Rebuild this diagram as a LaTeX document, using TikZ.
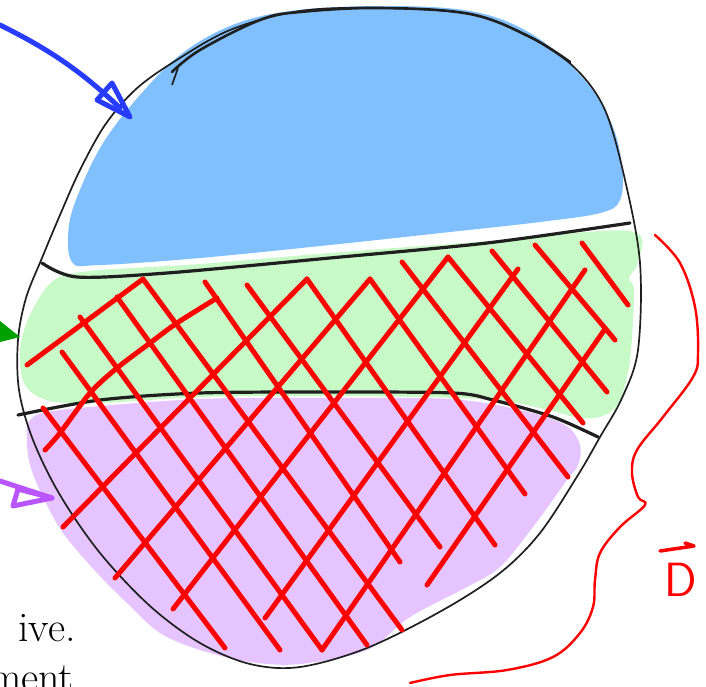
\documentclass[tikz,border=0pt]{standalone}
\usepackage{fontspec}
\definecolor{skyb}{RGB}{128,192,255}
\definecolor{mint}{RGB}{200,250,200}
\definecolor{lilac}{RGB}{230,196,255}
\definecolor{hatchred}{RGB}{255,0,0}
\definecolor{arrblue}{RGB}{40,60,255}
\definecolor{arrgreen}{RGB}{0,160,0}
\definecolor{arrpurple}{RGB}{185,85,255}
\tikzset{
  outline/.style={draw=black!88, line width=1.7pt, line join=round},
  sepline/.style={draw=black!88, line width=3.2pt, line cap=round, line join=round},
  hatchline/.style={draw=hatchred, line width=5pt, line cap=round, line join=round},
  pen/.style={line width=#1, line cap=round, line join=round},
}
\begin{document}
\begin{tikzpicture}[x=1pt,y=-1pt]
\useasboundingbox (0,0) rectangle (706,687);
% colour fills
\fill[skyb] plot[smooth cycle, tension=0.6] coordinates {(72,262) (69,225) (82,185) (105,140) (140,95) (180,55) (230,26) (290,11) (380,6) (470,11) (530,33) (580,75) (610,120) (622,165) (620,200) (600,213) (540,222) (450,232) (330,245) (200,258) (100,265)};
\fill[mint] plot[smooth cycle, tension=0.55] coordinates {(30,315) (53,281) (90,271) (200,264) (330,253) (490,241) (630,231) (638,262) (629,278) (634,292) (630,360) (620,400) (605,415) (580,418) (540,408) (480,399) (330,396) (200,397) (100,403) (50,401) (25,385) (20,350)};
\fill[lilac] plot[smooth cycle, tension=0.55] coordinates {(30,420) (60,410) (200,399) (330,398) (450,399) (520,410) (565,425) (580,445) (578,465) (567,480) (533,527) (500,567) (467,587) (410,617) (367,650) (300,664) (250,662) (200,650) (160,633) (127,603) (97,573) (63,533) (43,497) (30,465) (27,440)};
% outer outline
\draw[outline] plot[smooth cycle, tension=0.55] coordinates {(172,63) (230,30) (300,11) (380,8) (470,14) (530,37) (575,68) (605,110) (625,180) (640,263) (638,350) (622,398) (600,437) (578,475) (540,533) (500,573) (443,610) (367,648) (300,667) (250,664) (200,643) (150,606) (100,553) (60,495) (33,440) (19,390) (18,340) (26,298) (42,258) (60,215) (80,170) (105,125) (135,90)};
\draw[sepline, line width=2.6pt] plot[smooth, tension=0.6] coordinates {(172,72) (200,50) (260,20) (300,12) (380,8) (470,14) (530,37) (570,62)};
\draw[outline] (178,68) -- (172,85);
% separation lines
\draw[sepline] plot[smooth, tension=0.5] coordinates {(42,263) (77,277) (167,273) (330,258) (487,243) (630,223)};
\draw[sepline] plot[smooth, tension=0.5] coordinates {(18,415) (100,400) (200,393) (330,392) (453,393) (493,400) (553,417) (598,437)};
% cross hatching: down-right strokes
\foreach \a/\b/\c/\d in {43/408/225/648, 62/352/280/650, 80/317/322/650, 117/297/367/645, 143/279/402/630, 205/282/400/562, 247/285/440/547, 307/279/495/545, 370/279/525/494, 402/262/568/477, 448/257/583/423, 492/251/607/392, 535/245/615/340, 582/243/628/305}
  \draw[hatchline] (\a,\b) -- (\c,\d);
% cross hatching: up-right strokes
\foreach \a/\b/\c/\d in {27/365/143/279, 63/527/307/279, 115/578/370/279, 173/609/448/257, 265/618/518/269, 322/650/585/270, 427/585/605/329}
  \draw[hatchline] (\a,\b) -- (\c,\d);
\draw[hatchline] plot[smooth, tension=0.5] coordinates {(45,450) (60,433) (90,393) (117,368) (150,343) (177,323) (217,298)};
% right-hand curve
\draw[pen=2.4pt, hatchred] plot[smooth, tension=0.6] coordinates {(655,235) (680,263) (695,307) (698,353) (693,377) (663,417) (637,450) (632,473) (638,497) (645,505) (620,527) (600,553) (595,580) (593,607) (580,633) (553,657) (507,670) (450,675) (410,683)};
\node[text=hatchred, font=\sffamily\fontsize{48}{48}\selectfont, inner sep=0pt] (dlabel) at (681,580) {D};
\coordinate (barA) at (660,551);
\coordinate (barB) at (694,546);
\draw[pen=3.5pt, hatchred] (barA) -- (barB) -- (685,543);
% blue arrow
\coordinate (bstart) at (0,25);
\coordinate (btip) at (130,117);
\draw[pen=5pt, arrblue] (bstart) .. controls (40,45) and (75,65) .. (120,108);
\draw[pen=5pt, arrblue] (112,83) -- (btip) -- (97,100) -- cycle;
% green arrow
\coordinate (gtip) at (20,337);
\fill[arrgreen] (0,321) -- (gtip) -- (0,342) -- cycle;
% purple arrow
\coordinate (pstart) at (0,481);
\coordinate (ptip) at (52,498);
\draw[pen=5pt, arrpurple] (pstart) -- (ptip);
\draw[pen=5pt, arrpurple] (18,489) -- (ptip) -- (13,506) -- cycle;
% text
\node[anchor=base east, font=\fontsize{42}{42}\selectfont, inner sep=0pt] (txtA) at (76,641) {ive.};
\node[anchor=base east, font=\fontsize{42}{42}\selectfont, inner sep=0pt] (txtB) at (74,691) {ment};
\end{tikzpicture}
\end{document}
